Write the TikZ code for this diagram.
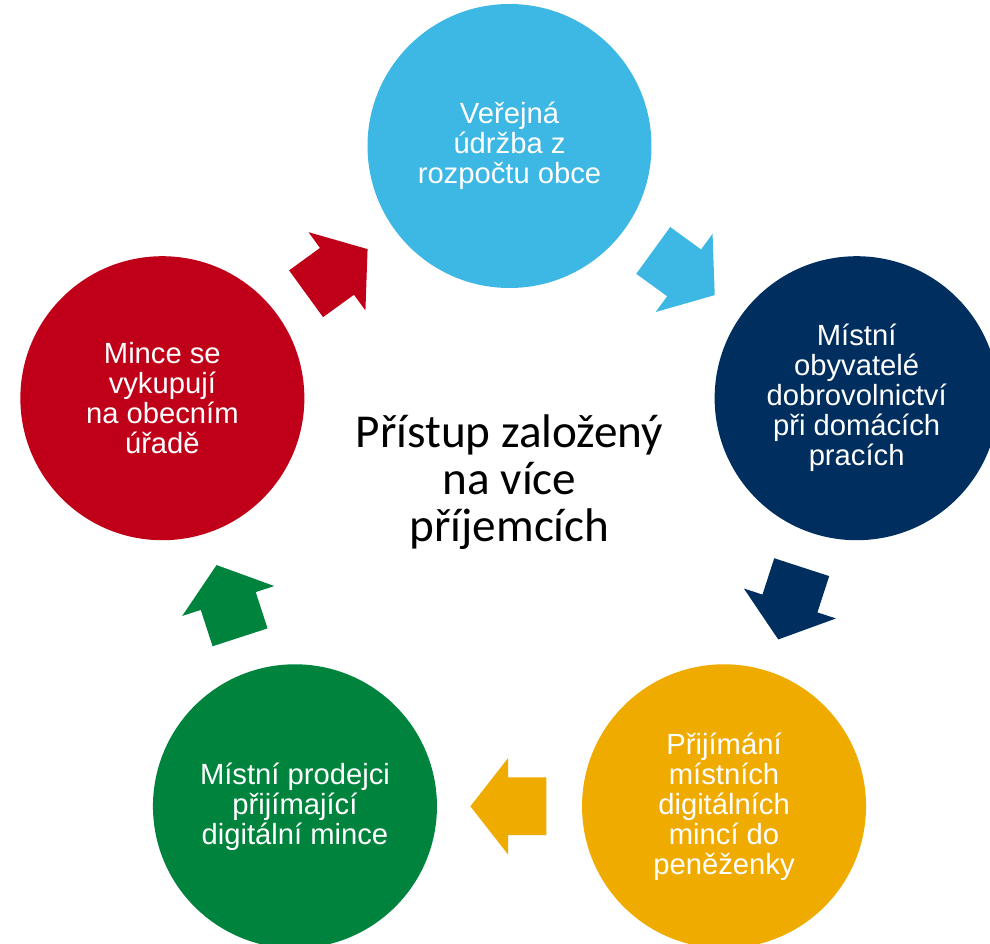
\documentclass[tikz,border=0pt]{standalone}
\usepackage{fontspec}
\setmainfont{Liberation Sans}
\newfontfamily\calibrifont{Carlito}
\usetikzlibrary{shapes.arrows}

\definecolor{skyblue}{HTML}{3DB7E4}
\definecolor{navy}{HTML}{002F5F}
\definecolor{amber}{HTML}{F0AB00}
\definecolor{forest}{HTML}{00843D}
\definecolor{crimson}{HTML}{C00018}

\tikzset{
  stage/.style={circle, minimum size=142pt, inner sep=0pt, text=white,
    align=center, font=\fontsize{14.6}{15}\selectfont},
  cyclearrow/.style={single arrow, sloped, allow upside down, anchor=tail,
    minimum height=38pt, inner xsep=0pt, inner ysep=14.25pt,
    single arrow head extend=9.75pt, single arrow tip angle=104,
    single arrow head indent=0pt},
}

\begin{document}
\begin{tikzpicture}[%
      x=0.5pt, y=0.5pt,
      ]
      \useasboundingbox (-509.5,-432) rectangle (480.5,511);
      \clip (-509.5,-432) rectangle (480.5,511);

      \node [stage, fill=skyblue] (maint) at (90:365) {Veřejná\\údržba z\\rozpočtu obce};
      \node [stage, fill=navy] (locals) at (18:365) {Místní\\obyvatelé\\dobrovolnictví\\při domácích\\pracích};
      \node [stage, fill=amber] (wallet) at (-54:365) {Přijímání\\místních\\digitálních\\mincí do\\peněženky};
      \node [stage, fill=forest] (vendors) at (-126:365) {Místní prodejci\\přijímající\\digitální mince};
      \node [stage, fill=crimson] (office) at (162:365) {Mince se\\vykupují\\na obecním\\úřadě};

      \node [font=\calibrifont\fontsize{23.6}{23.5}\selectfont, align=center] (title) at (0,29) {Přístup založený\\na více\\příjemcích};

      \foreach \from/\to/\col in {maint/locals/skyblue, locals/wallet/navy,
          wallet/vendors/amber, vendors/office/forest, office/maint/crimson}
        \path (\from) -- node [cyclearrow, pos=0.2416, fill=\col] {} (\to);
\end{tikzpicture}
\end{document}
